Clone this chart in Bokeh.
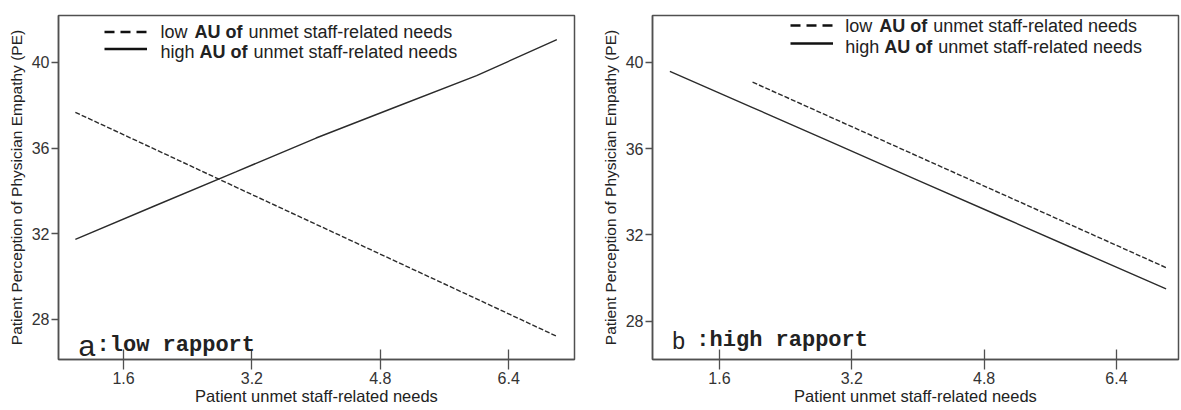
from bokeh.plotting import figure
from bokeh.models import (Legend, LegendItem, Label, FixedTicker, Range1d,
                          ColumnDataSource, CDSView, IndexFilter)
from bokeh.layouts import row
from bokeh.embed import file_html
from bokeh.resources import INLINE

# ---------------- data ----------------
x_ticks = [1.6, 3.2, 4.8, 6.4]
y_ticks = [28, 32, 36, 40]

a_x = [1, 2, 3, 4, 5, 6, 7]
a_low_au = [37.67, 35.93, 34.18, 32.44, 30.70, 28.96, 27.21]
a_high_au = [31.74, 33.32, 34.89, 36.47, 37.93, 39.38, 41.06]

b_low_x = [2, 3, 4, 5, 6, 7]
b_low_au = [39.08, 37.36, 35.64, 33.92, 32.20, 30.48]
b_high_x = [1, 2, 3, 4, 5, 6, 7]
b_high_au = [39.58, 37.90, 36.22, 34.53, 32.85, 31.17, 29.49]

legend_low = ["low ", "AU of", "unmet staff-related needs"]
legend_high = ["high ", "AU of", "unmet staff-related needs"]
x_title = "Patient unmet staff-related needs"
y_title = "Patient Perception of Physician Empathy (PE)"

FONT = "Liberation Sans"
MONO = "Liberation Mono"
LINE = "#2b2b2b"
AX = "#505050"
TXT = "#222222"


def make_panel(width, height, left, right, top, bottom, xr, yr,
               series, legend_loc, leg_spacing, text_anchor, row_dy,
               tag_letter, tag_text, tag_pos, tag_letter_size, tag_offset):
    p = figure(width=width, height=height, output_backend="svg", toolbar_location=None,
               x_range=Range1d(*xr), y_range=Range1d(*yr),
               min_border_left=left, min_border_right=right,
               min_border_top=top, min_border_bottom=bottom)
    p.xgrid.visible = False
    p.ygrid.visible = False
    p.outline_line_color = AX
    p.outline_line_width = 1.5
    p.outline_line_alpha = 1.0
    p.background_fill_color = "white"
    p.border_fill_color = "white"

    for ax in (p.xaxis[0], p.yaxis[0]):
        ax.axis_line_color = AX
        ax.axis_line_width = 1.5
        ax.major_tick_line_color = AX
        ax.major_tick_line_width = 1.3
        ax.minor_tick_line_color = None
        ax.major_label_text_font = FONT
        ax.major_label_text_color = "#333333"
        ax.major_label_text_font_size = "16px"
        ax.axis_label_text_font = FONT
        ax.axis_label_text_font_style = "normal"
        ax.axis_label_text_color = TXT

    p.xaxis.ticker = FixedTicker(ticks=x_ticks)
    p.yaxis.ticker = FixedTicker(ticks=y_ticks)
    p.xaxis.major_tick_in = 10
    p.xaxis.major_tick_out = 10
    p.xaxis.major_label_standoff = 2
    p.xaxis.axis_label = x_title
    p.xaxis.axis_label_text_font_size = "16.5px"
    p.xaxis.axis_label_standoff = 0
    p.yaxis.major_tick_in = 0
    p.yaxis.major_tick_out = 7
    p.yaxis.major_label_standoff = 2
    p.yaxis.axis_label = y_title
    p.yaxis.axis_label_text_font_size = "15.5px"
    p.yaxis.axis_label_standoff = 4

    (lx, ly), (hx, hy) = series
    src_low = ColumnDataSource(data=dict(x=lx, y=ly))
    src_high = ColumnDataSource(data=dict(x=hx, y=hy))
    p.line("x", "y", source=src_low, line_color=LINE, line_width=1.4, line_dash="5 2")
    p.line("x", "y", source=src_high, line_color=LINE, line_width=1.4)

    # legend samples: same data, only first point kept (a one-point line draws nothing),
    # in a bolder style used only for the legend swatch
    leg_dash = p.line("x", "y", source=src_low, view=CDSView(filter=IndexFilter(indices=[0])),
                      line_color="#111111", line_width=2.6, line_dash="10 6")
    leg_solid = p.line("x", "y", source=src_high, view=CDSView(filter=IndexFilter(indices=[0])),
                       line_color="#111111", line_width=2.6)
    legend = Legend(items=[LegendItem(label=" ", renderers=[leg_dash]),
                           LegendItem(label=" ", renderers=[leg_solid])],
                    location=legend_loc, glyph_width=43, glyph_height=leg_spacing,
                    label_height=leg_spacing, label_width=1, label_standoff=0,
                    label_text_font_size="6px",
                    spacing=0, padding=0, margin=0,
                    border_line_color=None, background_fill_alpha=0)
    p.add_layout(legend, "center")

    tx, ty = text_anchor
    offsets_low = [0, 34, 88]
    offsets_high = [0, 39, 93]
    for k, (words, offs) in enumerate(((legend_low, offsets_low), (legend_high, offsets_high))):
        for w, o in zip(words, offs):
            p.add_layout(Label(x=tx, y=ty, x_offset=o, y_offset=-k * row_dy, text=w,
                               text_font=FONT, text_font_size="18px",
                               text_font_style="bold" if w == "AU of" else "normal",
                               text_color=TXT, text_baseline="middle", text_align="left"))

    gx, gy = tag_pos
    p.add_layout(Label(x=gx, y=gy, text=tag_letter, text_font=FONT,
                       text_font_size=tag_letter_size, text_color=TXT,
                       text_baseline="alphabetic", text_align="left"))
    p.add_layout(Label(x=gx, y=gy, x_offset=tag_offset, text=tag_text, text_font=MONO,
                       text_font_size="22px", text_font_style="bold", text_color=TXT,
                       text_baseline="alphabetic", text_align="left"))
    return p


pa = make_panel(590, 410, 58, 16, 15, 51, (0.79, 7.22), (26.13, 42.19),
                ((a_x, a_low_au), (a_x, a_high_au)),
                (46, 302), 17, (2.06, 41.4), 20,
                "a", ":low rapport", (1.04, 26.79), "30px", 18)

pb = make_panel(591, 410, 62, 3, 11, 47, (0.79, 7.15), (26.22, 42.17),
                ((b_low_x, b_low_au), (b_high_x, b_high_au)),
                (138, 307), 18, (3.12, 41.66), 21,
                "b", ":high rapport", (1.03, 27.09), "23px", 24)

layout = row(pa, pb)
open("out.html", "w").write(file_html(layout, INLINE))
